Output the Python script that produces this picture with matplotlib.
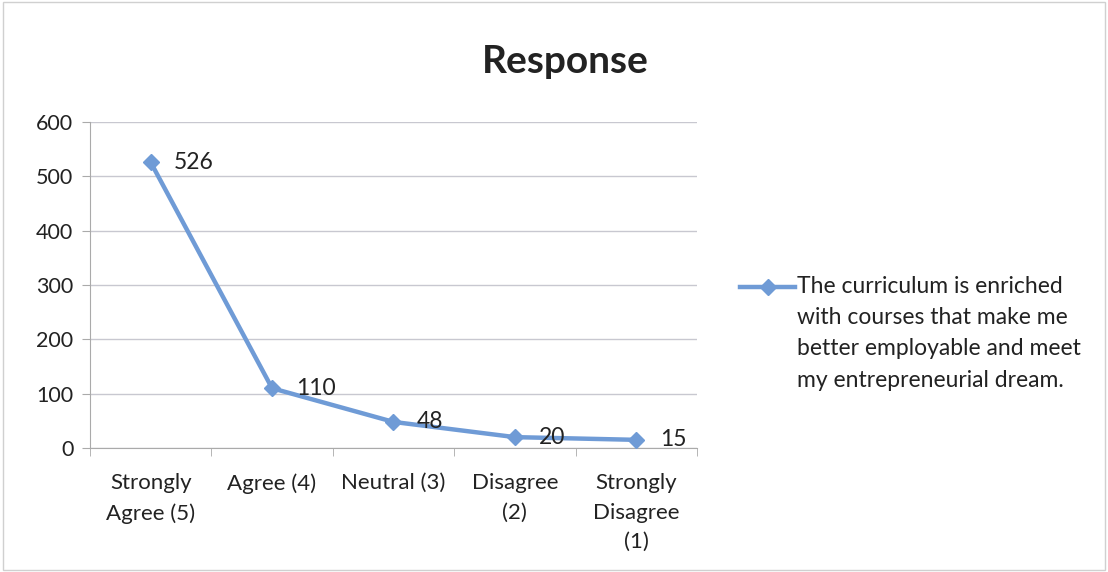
import matplotlib.pyplot as plt
from matplotlib.lines import Line2D

plt.rcParams['font.family'] = ['Lato', 'DejaVu Sans']

categories = ['Strongly\nAgree (5)', 'Agree (4)', 'Neutral (3)', 'Disagree\n(2)', 'Strongly\nDisagree\n(1)']
responses = [526, 110, 48, 20, 15]
series_name = 'The curriculum is enriched\nwith courses that make me\nbetter employable and meet\nmy entrepreneurial dream.'

line_color = '#6f9bd6'
text_color = '#222222'

fig = plt.figure(figsize=(11.08, 5.72), dpi=100)
ax = fig.add_axes([0.0812, 0.2168, 0.5478, 0.5699])

x = list(range(len(categories)))
ax.plot(x, responses, color=line_color, lw=3.2, marker='D', ms=8, zorder=3)

for xi, v in zip(x, responses):
    ax.annotate(str(v), (xi, v), xytext=(17, 0), textcoords='offset points',
                ha='left', va='center', fontsize=16.5, color=text_color)

ax.set_xlim(-0.5, len(categories) - 0.5)
ax.set_ylim(0, 600)
ax.set_yticks(range(0, 601, 100))
ax.set_xticks(x)
ax.set_xticklabels(categories, fontsize=16, color=text_color, va='top', linespacing=1.6)
ax.set_xticks([i - 0.5 for i in range(len(categories) + 1)], minor=True)
ax.tick_params(axis='x', which='major', length=0, pad=18)
ax.tick_params(axis='x', which='minor', length=6, color='#aaaaaa', direction='out')
ax.tick_params(axis='y', labelsize=15.5, colors=text_color, length=6, direction='out', pad=6)
ax.tick_params(axis='y', color='#aaaaaa')

ax.grid(axis='y', color='#c8c8d0', lw=1)
ax.set_axisbelow(True)
for s in ['top', 'right']:
    ax.spines[s].set_visible(False)
ax.spines['left'].set_color('#aaaaaa')
ax.spines['bottom'].set_color('#aaaaaa')

fig.text(0.51, 0.892, 'Response', ha='center', va='center', fontsize=28,
         fontweight='bold', color=text_color)

# legend drawn by hand so the marker sits on the first text line
ly = 1 - 287 / 572
fig.add_artist(Line2D([0.668, 0.7175], [ly, ly], color=line_color, lw=3.2))
fig.add_artist(Line2D([0.693], [ly], color=line_color, marker='D', ms=8))
fig.text(0.7193, ly + 11 / 572, series_name, ha='left', va='top', fontsize=16.5,
         color=text_color, linespacing=1.6)

fig.patches.append(plt.Rectangle((0.003, 0.003), 0.994, 0.994, transform=fig.transFigure,
                                 fill=False, ec='#d0d0d0', lw=1))

plt.savefig('out.png', dpi=100)
